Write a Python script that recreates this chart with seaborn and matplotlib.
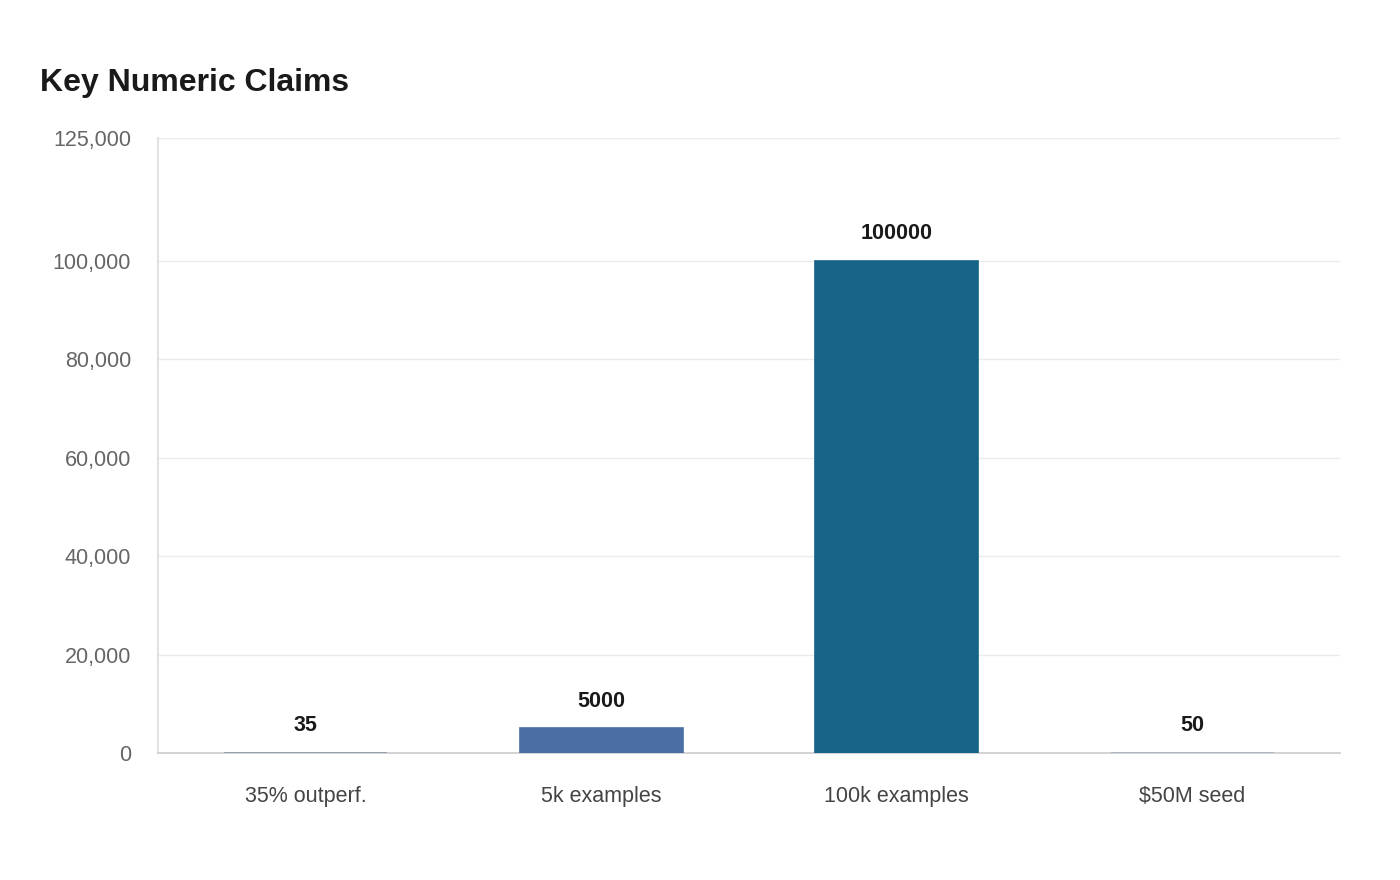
import matplotlib
matplotlib.use('Agg')
import matplotlib.pyplot as plt
import seaborn as sns
import pandas as pd

# chart data
labels = ['35% outperf.', '5k examples', '100k examples', '$50M seed']
values = [35, 5000, 100000, 50]
bar_colors = ['#8497ab', '#4a6fa5', '#176388', '#a8b3be']
y_ticks = [0, 20000, 40000, 60000, 80000, 100000, 125000]

sns.set_theme(style='white')
plt.rcParams['font.family'] = ['Liberation Sans', 'DejaVu Sans']

df = pd.DataFrame({'claim': labels, 'value': values})

fig = plt.figure(figsize=(14, 8.8), dpi=100)
ax = fig.add_axes([0.1129, 0.1443, 0.8443, 0.6989])

sns.barplot(data=df, x='claim', y='value', hue='claim', palette=bar_colors,
            legend=False, width=0.552, saturation=1, ax=ax, zorder=3)

# thin edge so the tiny values still show as a sliver
for p in ax.patches:
    p.set_edgecolor(p.get_facecolor())
    p.set_linewidth(1.2)

ax.set_xlim(-0.5, 3.5)
ax.set_ylim(0, 125000)
ax.set_yticks(y_ticks)
ax.set_yticklabels([f'{t:,}' for t in y_ticks])
ax.grid(axis='y', color='#ebebeb', linewidth=1, zorder=0)
ax.set_xlabel('')
ax.set_ylabel('')

for s in ['top', 'right']:
    ax.spines[s].set_visible(False)
ax.spines['left'].set_color('#dddddd')
ax.spines['bottom'].set_color('#cccccc')
ax.spines['bottom'].set_linewidth(1.2)

ax.tick_params(axis='y', length=11.5, color='#ebebeb', width=1,
               labelsize=15.5, labelcolor='#666666', pad=8)
ax.tick_params(axis='x', length=0, labelsize=15.5, labelcolor='#444444', pad=24)

for i, v in enumerate(values):
    ax.annotate(str(v), (i, v), xytext=(0, 19.5), textcoords='offset points',
                ha='center', va='center', fontsize=15.5, fontweight='bold',
                color='#1a1a1a')

fig.text(0.0286, 0.906, 'Key Numeric Claims', fontsize=23, fontweight='bold',
         color='#1a1a1a', ha='left', va='center')

fig.savefig('out.png', dpi=100, facecolor='white')
